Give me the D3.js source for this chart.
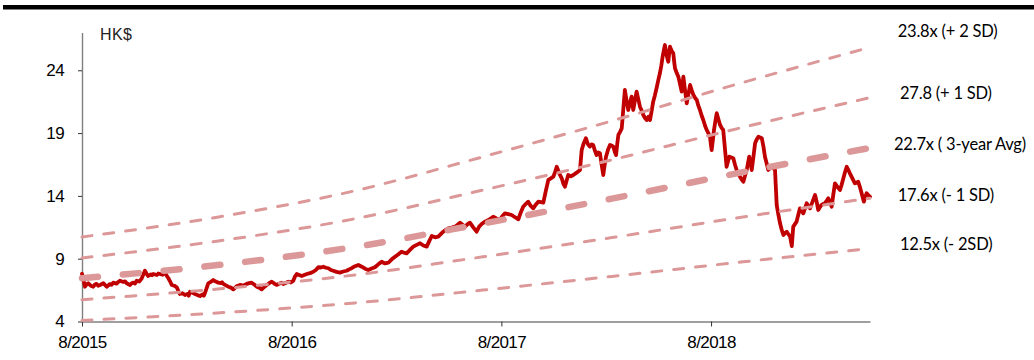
<!DOCTYPE html>
<html>
<head>
<meta charset="utf-8">
<script src="https://cdn.jsdelivr.net/npm/d3@7"></script>
<style>
  body { margin: 0; background: #fff; }
  svg { display: block; }
</style>
</head>
<body>
<svg id="chart" width="1034" height="360"></svg>
<script>
// Share price (HK$), time as decimal years
const closePrices = [
  [2015.583, 7.80], [2015.590, 7.30], [2015.597, 6.77], [2015.605, 6.95], [2015.613, 7.04], [2015.625, 6.85],
  [2015.637, 6.77], [2015.645, 6.95], [2015.652, 7.00], [2015.660, 6.85], [2015.669, 6.91], [2015.685, 7.05], [2015.693, 6.90], [2015.701, 6.77],
  [2015.716, 6.98], [2015.724, 6.92], [2015.732, 7.09], [2015.748, 7.02], [2015.756, 7.15], [2015.764, 7.25], [2015.780, 7.15],
  [2015.788, 7.20], [2015.796, 7.04], [2015.812, 6.91], [2015.820, 7.05], [2015.828, 7.10], [2015.836, 7.02], [2015.844, 7.25], [2015.856, 7.18],
  [2015.868, 7.44], [2015.883, 8.04], [2015.891, 7.80], [2015.899, 7.62], [2015.911, 7.75], [2015.917, 7.68], [2015.923, 7.78],
  [2015.940, 7.70], [2015.947, 7.82], [2015.955, 7.78], [2015.967, 7.72], [2015.979, 7.89], [2015.987, 7.65], [2015.995, 7.44],
  [2016.003, 7.20], [2016.011, 6.91], [2016.023, 6.85], [2016.035, 6.72], [2016.043, 6.40], [2016.050, 6.19],
  [2016.062, 6.25], [2016.074, 6.11], [2016.086, 6.20], [2016.092, 6.05], [2016.098, 6.37], [2016.110, 6.28],
  [2016.122, 6.19], [2016.134, 6.10], [2016.146, 6.03], [2016.158, 6.15], [2016.164, 6.05], [2016.170, 6.29],
  [2016.185, 7.04], [2016.197, 7.15], [2016.209, 7.30], [2016.221, 7.18], [2016.233, 7.09],
  [2016.245, 7.05], [2016.251, 7.12], [2016.257, 6.99], [2016.269, 6.88], [2016.281, 6.77], [2016.293, 6.70],
  [2016.305, 6.56], [2016.320, 6.80], [2016.336, 6.91], [2016.352, 6.85], [2016.368, 6.99],
  [2016.380, 7.05], [2016.392, 7.09], [2016.404, 6.95], [2016.416, 6.77], [2016.428, 6.70],
  [2016.440, 6.56], [2016.452, 6.75], [2016.464, 6.91], [2016.476, 7.05], [2016.488, 7.17],
  [2016.500, 7.02], [2016.511, 6.91], [2016.523, 7.00], [2016.535, 7.09], [2016.543, 6.98], [2016.551, 7.05],
  [2016.567, 7.17], [2016.579, 7.10], [2016.591, 7.25], [2016.599, 7.60], [2016.607, 7.78], [2016.619, 7.70],
  [2016.631, 7.62], [2016.643, 7.70], [2016.655, 7.78], [2016.670, 7.85], [2016.686, 7.96],
  [2016.698, 8.10], [2016.710, 8.32], [2016.722, 8.30], [2016.734, 8.36], [2016.746, 8.28],
  [2016.758, 8.24], [2016.770, 8.10], [2016.781, 8.04], [2016.797, 7.95], [2016.813, 7.89],
  [2016.829, 7.98], [2016.845, 8.04], [2016.857, 8.15], [2016.869, 8.24], [2016.885, 8.40],
  [2016.901, 8.50], [2016.917, 8.36], [2016.933, 8.20], [2016.948, 8.10], [2016.964, 8.22],
  [2016.980, 8.32], [2016.996, 8.55], [2017.012, 8.76], [2017.028, 8.62], [2017.044, 8.68],
  [2017.060, 8.95], [2017.076, 9.16], [2017.092, 9.35], [2017.107, 9.56], [2017.119, 9.48],
  [2017.131, 9.43], [2017.147, 9.70], [2017.163, 9.96], [2017.179, 10.10], [2017.195, 10.23],
  [2017.211, 10.05], [2017.227, 9.96], [2017.239, 10.40], [2017.251, 10.81], [2017.267, 10.70],
  [2017.282, 10.75], [2017.294, 10.95], [2017.306, 11.15], [2017.318, 11.30], [2017.330, 11.42],
  [2017.346, 11.48], [2017.362, 11.55], [2017.374, 11.70], [2017.386, 11.87], [2017.398, 11.70],
  [2017.410, 11.55], [2017.422, 11.75], [2017.433, 11.87], [2017.449, 11.50], [2017.465, 11.15],
  [2017.477, 11.55], [2017.489, 11.76], [2017.505, 11.95], [2017.521, 12.08], [2017.533, 12.20],
  [2017.544, 12.34], [2017.560, 12.20], [2017.576, 12.08], [2017.588, 12.40], [2017.600, 12.61],
  [2017.616, 12.55], [2017.632, 12.48], [2017.648, 12.30], [2017.664, 12.14], [2017.676, 12.70],
  [2017.687, 13.14], [2017.699, 13.35], [2017.711, 13.54], [2017.723, 13.20], [2017.735, 13.01],
  [2017.747, 13.30], [2017.759, 13.54], [2017.771, 13.50], [2017.783, 13.46], [2017.795, 14.40],
  [2017.807, 15.27], [2017.819, 15.40], [2017.831, 15.53], [2017.839, 15.90], [2017.847, 16.32],
  [2017.859, 15.80], [2017.871, 15.40], [2017.878, 15.00], [2017.886, 14.73], [2017.894, 15.20],
  [2017.902, 15.66], [2017.914, 15.55], [2017.926, 15.66], [2017.942, 15.85], [2017.958, 16.06],
  [2017.966, 17.65], [2017.976, 18.20], [2017.986, 18.59], [2017.996, 18.10], [2018.005, 17.92],
  [2018.013, 18.10], [2018.021, 18.05], [2018.029, 17.60], [2018.037, 17.26], [2018.045, 17.45],
  [2018.053, 17.39], [2018.061, 16.50], [2018.069, 15.66], [2018.075, 16.40], [2018.082, 17.12],
  [2018.092, 17.70], [2018.101, 18.05], [2018.109, 18.00], [2018.117, 17.92], [2018.124, 17.50],
  [2018.130, 17.26], [2018.136, 18.20], [2018.141, 18.85], [2018.149, 19.10], [2018.157, 19.38],
  [2018.165, 21.00], [2018.172, 22.43], [2018.180, 21.60], [2018.188, 20.84], [2018.196, 21.40],
  [2018.204, 21.90], [2018.212, 20.84], [2018.220, 21.60], [2018.228, 22.30], [2018.236, 21.70],
  [2018.244, 21.10], [2018.252, 20.80], [2018.260, 20.44], [2018.268, 20.20], [2018.276, 20.04],
  [2018.284, 20.30], [2018.292, 20.04], [2018.300, 20.80], [2018.307, 21.50], [2018.315, 22.00],
  [2018.323, 22.57], [2018.331, 23.20], [2018.339, 23.76], [2018.346, 24.40], [2018.352, 25.08],
  [2018.358, 25.60], [2018.363, 26.01], [2018.371, 25.20], [2018.379, 24.68], [2018.383, 25.30],
  [2018.387, 25.88], [2018.395, 25.55], [2018.403, 25.35], [2018.407, 24.70], [2018.411, 24.16],
  [2018.419, 23.80], [2018.427, 23.49], [2018.435, 22.90], [2018.443, 22.30], [2018.451, 23.49],
  [2018.459, 22.40], [2018.467, 21.37], [2018.475, 22.10], [2018.483, 22.83], [2018.491, 22.40],
  [2018.499, 22.03], [2018.507, 21.80], [2018.515, 21.64], [2018.522, 21.20], [2018.530, 20.84],
  [2018.538, 20.40], [2018.546, 20.04], [2018.554, 19.60], [2018.562, 19.25], [2018.570, 19.00],
  [2018.578, 18.71], [2018.582, 18.10], [2018.586, 17.65], [2018.592, 18.50], [2018.597, 19.25],
  [2018.604, 20.00], [2018.610, 20.58], [2018.618, 20.10], [2018.626, 19.65], [2018.634, 19.40],
  [2018.641, 19.25], [2018.649, 17.80], [2018.657, 16.32], [2018.663, 16.70], [2018.670, 17.12],
  [2018.680, 17.05], [2018.689, 16.99], [2018.697, 16.50], [2018.705, 16.06], [2018.713, 15.80],
  [2018.721, 15.53], [2018.729, 15.30], [2018.737, 15.13], [2018.745, 15.60], [2018.753, 16.06],
  [2018.759, 16.60], [2018.765, 17.12], [2018.771, 16.60], [2018.777, 16.06], [2018.785, 17.10],
  [2018.793, 18.19], [2018.801, 18.50], [2018.809, 18.71], [2018.817, 18.65], [2018.825, 18.59],
  [2018.833, 17.90], [2018.840, 17.12], [2018.848, 16.60], [2018.856, 16.06], [2018.864, 16.20],
  [2018.872, 16.32], [2018.880, 16.20], [2018.888, 16.06], [2018.892, 14.70], [2018.896, 13.28],
  [2018.904, 12.50], [2018.912, 11.82], [2018.920, 11.30], [2018.928, 10.89], [2018.936, 11.05],
  [2018.944, 11.15], [2018.952, 10.95], [2018.960, 10.75], [2018.964, 10.40], [2018.968, 10.01],
  [2018.975, 11.55], [2018.983, 11.75], [2018.991, 11.95], [2018.999, 12.50], [2019.007, 13.01],
  [2019.015, 12.80], [2019.023, 12.61], [2019.031, 13.00], [2019.039, 13.41], [2019.047, 13.20],
  [2019.055, 13.01], [2019.067, 13.55], [2019.079, 14.07], [2019.087, 13.50], [2019.094, 12.88],
  [2019.102, 13.10], [2019.110, 13.28], [2019.118, 13.35], [2019.126, 13.41], [2019.134, 13.60],
  [2019.142, 13.81], [2019.150, 13.50], [2019.158, 13.14], [2019.166, 14.10], [2019.174, 15.00],
  [2019.186, 14.70], [2019.198, 14.47], [2019.206, 14.90], [2019.214, 15.40], [2019.222, 15.90],
  [2019.230, 16.32], [2019.238, 16.05], [2019.245, 15.80], [2019.257, 15.40], [2019.269, 15.00],
  [2019.277, 15.05], [2019.285, 15.13], [2019.293, 14.70], [2019.301, 14.21], [2019.306, 13.90],
  [2019.312, 13.54], [2019.318, 13.90], [2019.325, 14.21], [2019.333, 14.05], [2019.341, 13.94]
];

// P/E band lines (HK$), sampled at these times
const bandTimes   = [2015.583, 2016.241, 2016.885, 2017.495, 2018.110, 2018.735, 2019.341];
const bandPlus2   = [10.73, 12.34, 14.41, 17.11, 19.97, 23.03, 25.83];
const bandPlus1   = [9.06, 10.43, 12.18, 14.46, 16.87, 19.46, 21.82];
const bandAverage = [7.45, 8.51, 9.94, 11.80, 13.78, 15.89, 17.82];
const bandMinus1  = [5.74, 6.60, 7.71, 9.15, 10.68, 12.32, 13.82];
const bandMinus2  = [4.08, 4.69, 5.48, 6.50, 7.59, 8.75, 9.81];

const bandLabels = ["23.8x (+ 2 SD)", "27.8 (+ 1 SD)", "22.7x ( 3-year Avg)", "17.6x (- 1 SD)", "12.5x (- 2SD)"];

const yTickValues = [4, 9, 14, 19, 24];
const xTickTimes  = [2015.583, 2016.583, 2017.583, 2018.583];
const xTickLabels = ["8/2015", "8/2016", "8/2017", "8/2018"];
const unitLabel   = "HK$";

const svg = d3.select("#chart");

const x = d3.scaleLinear().domain([2015.583, 2019.341]).range([82, 870]);
const y = d3.scaleLinear().domain([4, 27]).range([321.5, 32.6]);

// Heavy rule across the top
svg.append("rect")
  .attr("x", 3).attr("y", 5).attr("width", 1031).attr("height", 4.5)
  .attr("fill", "#000");

// Axes
const axisFont = "'Liberation Sans', Arial, sans-serif";

const yAxis = svg.append("g")
  .attr("transform", "translate(82,0)")
  .call(d3.axisLeft(y).tickValues(yTickValues).tickSize(4).tickSizeOuter(0).tickPadding(14));

const xAxis = svg.append("g")
  .attr("transform", "translate(0,321.5)")
  .call(d3.axisBottom(x).tickValues(xTickTimes)
    .tickFormat((d, i) => xTickLabels[i])
    .tickSize(5).tickSizeOuter(0).tickPadding(9));

[yAxis, xAxis].forEach(g => {
  g.select(".domain").attr("stroke", "#7f7f7f").attr("stroke-width", 1.4);
  g.selectAll(".tick line").attr("stroke", "#333").attr("stroke-width", 1);
  g.selectAll(".tick text")
    .attr("fill", "#000")
    .style("font-family", axisFont)
    .style("font-size", "17px")
    .style("letter-spacing", "-0.6px");
});

svg.append("text")
  .attr("x", 100).attr("y", 39.5)
  .style("font-family", axisFont)
  .style("font-size", "16px")
  .style("letter-spacing", "0.4px")
  .attr("fill", "#222")
  .text(unitLabel);

// Price line
const priceLine = d3.line()
  .x(d => x(d[0]))
  .y(d => y(d[1]));

svg.append("path")
  .datum(closePrices)
  .attr("d", priceLine)
  .attr("fill", "none")
  .attr("stroke", "#c00000")
  .attr("stroke-width", 3.8)
  .attr("stroke-linejoin", "round")
  .attr("stroke-linecap", "round");

// P/E bands drawn over the price
const bandLine = d3.line()
  .x((d, i) => x(bandTimes[i]))
  .y(d => y(d))
  .curve(d3.curveMonotoneX);

const bands = [
  { values: bandPlus2, width: 3, dash: "10,12" },
  { values: bandPlus1, width: 3, dash: "10,12" },
  { values: bandAverage, width: 6.5, dash: "16,25" },
  { values: bandMinus1, width: 3, dash: "10,12" },
  { values: bandMinus2, width: 3, dash: "10,12" }
];

svg.append("g").selectAll("path")
  .data(bands)
  .join("path")
  .attr("d", d => bandLine(d.values))
  .attr("fill", "none")
  .attr("stroke", "#dc9898")
  .attr("stroke-width", d => d.width)
  .attr("stroke-dasharray", d => d.dash)
  .attr("stroke-linecap", "round");

// Band captions on the right
const labelPos = [[897.7, 37], [900, 99], [894, 150], [897.7, 200.7], [900, 250]];

svg.append("g").selectAll("text")
  .data(bandLabels)
  .join("text")
  .attr("x", (d, i) => labelPos[i][0])
  .attr("y", (d, i) => labelPos[i][1])
  .style("font-family", "Lato, 'Open Sans', sans-serif")
  .style("font-size", "16.5px")
  .style("letter-spacing", "-0.2px")
  .attr("fill", "#000")
  .text(d => d);
</script>
</body>
</html>
